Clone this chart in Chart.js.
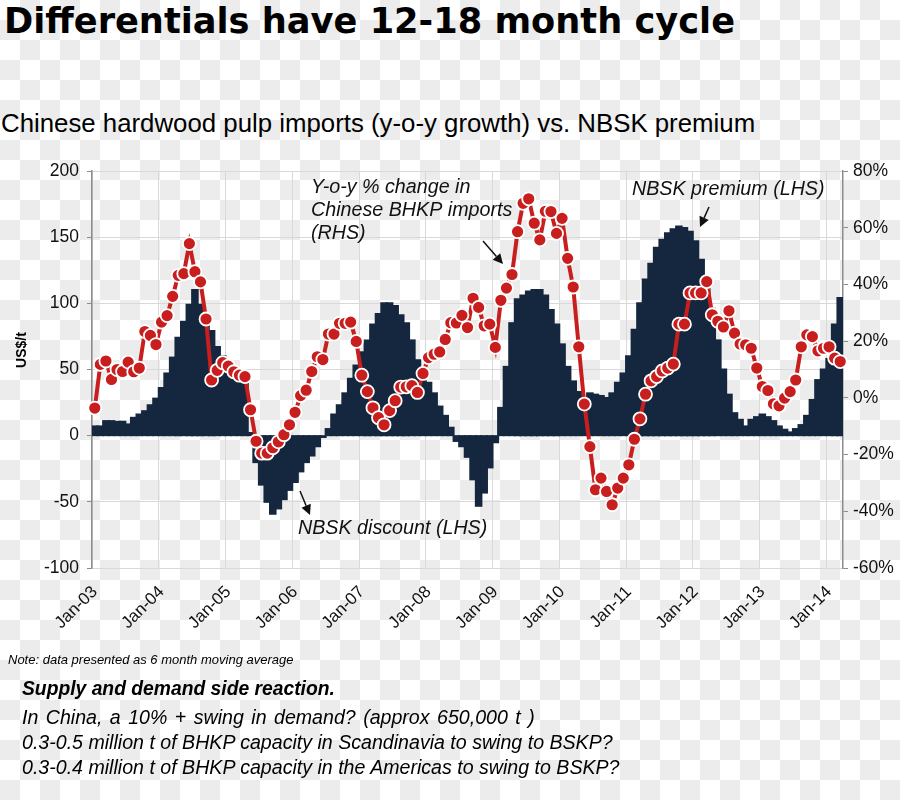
<!DOCTYPE html>
<html lang="en">
<head>
<meta charset="UTF-8">
<title>Differentials have 12-18 month cycle</title>
<script src="https://cdn.jsdelivr.net/npm/chart.js"></script>
<style>
  html, body { margin: 0; padding: 0; }
  body {
    width: 900px; height: 800px; position: relative; overflow: hidden;
    background: repeating-conic-gradient(#ececec 0 25%, #ffffff 0 50%) 0 0 / 40px 40px;
    font-family: "Liberation Sans", Arial, sans-serif; color: #000;
  }
  #chartBox { position: absolute; left: 0; top: 0; width: 900px; height: 800px; }
  .txt { position: absolute; white-space: pre; line-height: 1; }
  #title { left: 4px; top: 3px; font-family: "DejaVu Sans", Verdana, sans-serif; font-size: 35.2px; font-weight: bold; }
  #subtitle { left: 1px; top: 111px; font-size: 25.8px; }
  #note { left: 8px; top: 653px; font-size: 13px; font-style: italic; }
  .comment { left: 22px; font-size: 19.6px; font-style: italic; }
  #c1 { top: 679px; font-weight: bold; font-size: 19.3px; }
  #c2 { top: 708px; word-spacing: 2px; }
  #c3 { top: 733px; }
  #c4 { top: 758px; }
</style>
</head>
<body>
  <div class="txt" id="title">Differentials have 12-18 month cycle</div>
  <div class="txt" id="subtitle">Chinese hardwood pulp imports (y-o-y growth) vs. NBSK premium</div>
  <div id="chartBox"><canvas id="pulpChart" width="900" height="800"></canvas></div>
  <div class="txt" id="note">Note: data presented as 6 month moving average</div>
  <div class="txt comment" id="c1">Supply and demand side reaction.</div>
  <div class="txt comment" id="c2">In China, a 10% + swing in demand? (approx 650,000 t )</div>
  <div class="txt comment" id="c3">0.3-0.5 million t of BHKP capacity in Scandinavia to swing to BSKP?</div>
  <div class="txt comment" id="c4">0.3-0.4 million t of BHKP capacity in the Americas to swing to BSKP?</div>

<script>
    // Monthly categories, Jan-03 .. Mar-14
    const monthNames = ['Jan', 'Feb', 'Mar', 'Apr', 'May', 'Jun', 'Jul', 'Aug', 'Sep', 'Oct', 'Nov', 'Dec'];
    const years = ['03', '04', '05', '06', '07', '08', '09', '10', '11', '12', '13', '14'];
    const months = [];
    years.forEach(y => monthNames.forEach(m => months.push(m + '-' + y)));
    months.length = 135;

    // NBSK premium / discount over BHKP, US$/t (LHS)
    const nbskPremium = [
        7, 7, 11, 11, 10.5, 10.5, 8.5, 13.5, 16, 18.5, 23, 28,
        36, 47, 59, 74, 86, 99, 110, 99, 86, 79, 67, 60,
        50, 46, 43, 41, 2, -20, -37, -50, -59, -55, -48, -41,
        -35, -27, -20, -15, -8, -1, 5, 16, 23, 32, 43, 53,
        63, 72, 84, 92, 100, 100, 98, 91, 85, 72, 57, 47,
        40, 32, 22, 15, 6, -4, -8, -16, -33, -53, -43, -24,
        -5, 21, 52, 85, 103, 106, 109, 110, 110, 106, 95, 84,
        69, 52, 41, 33, 27, 32, 31, 30, 28.5, 32, 40, 47,
        60, 80, 100, 118, 130, 142, 148, 153, 156, 158, 157, 154,
        147, 133, 115, 96, 72, 50, 31, 17, 12, 7, 12, 14,
        16, 14, 11, 7, 4.5, 2.5, 5, 8, 15, 27, 42, 50,
        58, 84, 104
    ];

    // Y-o-y % change in Chinese BHKP imports (RHS)
    const yoyGrowth = [
        -3.6, 11.8, 13, 6.5, 10, 9.3, 12.6, 9.2, 10.5, 23.4, 22, 18.8,
        26.7, 29, 35.8, 43.2, 43.8, 54.4, 44.5, 40.9, 27.8, 6.3, 9.7, 12.4,
        11.2, 9.2, 8, 7.5, -4.2, -15.3, -19.5, -19.5, -17.6, -15.5, -13, -9.5,
        -5.1, 0.8, 2.7, 9.3, 14.5, 13.5, 22.5, 22.5, 26.3, 26.3, 26.7, 19.9,
        8, 2.2, -3.5, -7, -9.5, -4.5, -1, 3.8, 3.9, 4.3, 1.9, 8.6,
        14.2, 15.4, 16.2, 20.6, 26.5, 26.4, 29.1, 24.8, 35.1, 31.9, 25.4, 26,
        17.8, 34.4, 38.7, 43.5, 58.6, 68.6, 70.2, 61.6, 55.7, 65.8, 65.7, 58,
        63.3, 49.2, 39.1, 18, -2.2, -17.2, -32.4, -28.3, -33, -37.7, -31.8, -28.3,
        -23.6, -14.6, -7.4, 1.3, 6, 7.5, 9.5, 10.5, 11.9, 26, 26, 37,
        37, 37, 41, 29.3, 27, 25, 30.7, 22.8, 19, 18.7, 17.5, 10.5,
        4, 2.6, -2.1, -2.8, -0.1, 2.2, 6.3, 18, 22.2, 21.6, 16.6, 17.5,
        18, 14, 12.8
    ];

    // Axis ranges
    const lhsTicks = { min: -100, max: 200, step: 50 };
    const rhsTicks = { min: -60, max: 80, step: 20 };

    // Text placed inside the plot (x, baseline y in canvas px)
    const notes = [
        { text: 'Y-o-y % change in', x: 311, y: 193 },
        { text: 'Chinese BHKP imports', x: 311, y: 216 },
        { text: '(RHS)', x: 311, y: 239 },
        { text: 'NBSK premium (LHS)', x: 632, y: 195 },
        { text: 'NBSK discount (LHS)', x: 298, y: 534 }
    ];
    const arrows = [
        [483, 241, 503, 264],
        [709, 207, 700, 227],
        [300, 491, 310, 515]
    ];

    const fontFamily = '"Liberation Sans", Arial, sans-serif';
    const gridGrey = '#d9d9d9';
    const axisGrey = '#8c8c8c';

    const annotate = {
        id: 'annotate',
        afterDraw(chart) {
            const c = chart.ctx;
            c.save();
            c.fillStyle = '#111';
            c.strokeStyle = '#111';
            c.font = 'italic 19.7px ' + fontFamily;
            c.textBaseline = 'alphabetic';
            c.textAlign = 'left';
            notes.forEach(n => c.fillText(n.text, n.x, n.y));

            arrows.forEach(([x1, y1, x2, y2]) => {
                const ang = Math.atan2(y2 - y1, x2 - x1);
                const hl = 10, hw = 5;
                const bx = x2 - hl * Math.cos(ang), by = y2 - hl * Math.sin(ang);
                c.lineWidth = 1.5;
                c.beginPath();
                c.moveTo(x1, y1);
                c.lineTo(bx, by);
                c.stroke();
                c.beginPath();
                c.moveTo(x2, y2);
                c.lineTo(bx + hw * Math.sin(ang), by - hw * Math.cos(ang));
                c.lineTo(bx - hw * Math.sin(ang), by + hw * Math.cos(ang));
                c.closePath();
                c.fill();
            });

            // left axis title
            c.translate(26, 350);
            c.rotate(-Math.PI / 2);
            c.font = 'bold 14px ' + fontFamily;
            c.textAlign = 'center';
            c.fillStyle = '#000';
            c.fillText('US$/t', 0, 0);
            c.restore();
        }
    };

    const ctx = document.getElementById('pulpChart').getContext('2d');

    new Chart(ctx, {
        type: 'bar',
        data: {
            labels: months,
            datasets: [
                {
                    type: 'line',
                    label: 'Y-o-y % change in Chinese BHKP imports (RHS)',
                    data: yoyGrowth,
                    yAxisID: 'y1',
                    borderColor: '#c81e1e',
                    borderWidth: 4,
                    pointRadius: 6.5,
                    pointBackgroundColor: '#c81e1e',
                    pointBorderColor: '#ffffff',
                    pointBorderWidth: 1.8,
                    tension: 0,
                    order: 0
                },
                {
                    type: 'bar',
                    label: 'NBSK premium (LHS)',
                    data: nbskPremium,
                    yAxisID: 'y',
                    backgroundColor: '#14273f',
                    borderWidth: 0,
                    barPercentage: 1,
                    categoryPercentage: 1,
                    inflateAmount: 1,
                    order: 1
                }
            ]
        },
        options: {
            responsive: false,
            animation: false,
            devicePixelRatio: 1,
            layout: { padding: { top: 171, left: 0, right: 0, bottom: 0 } },
            plugins: {
                legend: { display: false },
                tooltip: { enabled: false },
                title: { display: false }
            },
            scales: {
                x: {
                    offset: true,
                    grid: {
                        offset: true,
                        drawTicks: false,
                        color: c => (c.index % 12 === 0 ? gridGrey : 'rgba(0,0,0,0)')
                    },
                    border: { display: false },
                    ticks: {
                        autoSkip: false,
                        minRotation: 45,
                        maxRotation: 45,
                        padding: 14,
                        color: '#111',
                        font: { family: fontFamily, size: 17 },
                        callback: (v, i) => (months[i].startsWith('Jan') ? months[i] : '')
                    },
                    afterFit: s => { s.height = 232; }
                },
                y: {
                    position: 'left',
                    min: lhsTicks.min,
                    max: lhsTicks.max,
                    ticks: {
                        stepSize: lhsTicks.step,
                        padding: 8,
                        color: '#111',
                        font: { family: fontFamily, size: 17.5 }
                    },
                    grid: { color: gridGrey, tickColor: axisGrey, tickLength: 5 },
                    border: { color: axisGrey, width: 1.5 },
                    afterFit: s => { s.width = 92; }
                },
                y1: {
                    position: 'right',
                    min: rhsTicks.min,
                    max: rhsTicks.max,
                    ticks: {
                        stepSize: rhsTicks.step,
                        padding: 5,
                        color: '#111',
                        font: { family: fontFamily, size: 17.5 },
                        callback: v => v + '%'
                    },
                    grid: { drawOnChartArea: false, tickColor: axisGrey, tickLength: 5 },
                    border: { color: axisGrey, width: 1.5 },
                    afterFit: s => { s.width = 57; }
                }
            }
        },
        plugins: [annotate]
    });
</script>
</body>
</html>
